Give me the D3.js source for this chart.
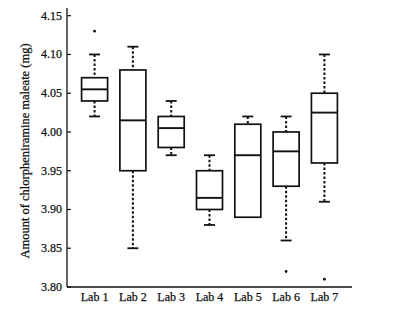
<!DOCTYPE html>
<html>
<head>
<meta charset="utf-8">
<script src="https://cdn.jsdelivr.net/npm/d3@7"></script>
<style>
  html, body { margin: 0; padding: 0; background: #fff; }
  svg { display: block; }
  text { font-family: "Liberation Serif", "DejaVu Serif", serif; fill: #111; stroke: #111; stroke-width: 0.25px; }
</style>
</head>
<body>
<svg id="chart" width="401" height="328"></svg>
<script>
// Chlorpheniramine maleate assay results by laboratory
const labs = ["Lab 1", "Lab 2", "Lab 3", "Lab 4", "Lab 5", "Lab 6", "Lab 7"];
const whiskerLow  = [4.02, 3.85, 3.97, 3.88, 3.89, 3.86, 3.91];
const quartile1   = [4.04, 3.95, 3.98, 3.90, 3.89, 3.93, 3.96];
const medians     = [4.055, 4.015, 4.005, 3.915, 3.97, 3.975, 4.025];
const quartile3   = [4.07, 4.08, 4.02, 3.95, 4.01, 4.00, 4.05];
const whiskerHigh = [4.10, 4.11, 4.04, 3.97, 4.02, 4.02, 4.10];
const outlierLab   = ["Lab 1", "Lab 6", "Lab 7"];
const outlierValue = [4.13, 3.82, 3.81];
const yTicks = [3.80, 3.85, 3.90, 3.95, 4.00, 4.05, 4.10, 4.15];

const svg = d3.select("#chart");
const plotLeft = 67, plotRight = 352, plotTop = 8, plotBottom = 287;

const x = d3.scalePoint().domain(labs).range([plotLeft, plotRight]).padding(0.72);
const y = d3.scaleLinear().domain([3.80, 4.15]).range([plotBottom, 15.7]);

const boxW = 26, capW = 11;
const ink = "#111";

// Axes
svg.append("line").attr("x1", plotLeft).attr("x2", plotLeft).attr("y1", plotTop).attr("y2", plotBottom)
  .attr("stroke", ink).attr("stroke-width", 1.3);
svg.append("line").attr("x1", plotLeft).attr("x2", plotRight).attr("y1", plotBottom).attr("y2", plotBottom)
  .attr("stroke", ink).attr("stroke-width", 1.3);

const yAxis = svg.append("g");
yTicks.forEach(t => {
  yAxis.append("line").attr("x1", plotLeft).attr("x2", plotLeft + 4)
    .attr("y1", y(t)).attr("y2", y(t)).attr("stroke", ink).attr("stroke-width", 1.2);
  yAxis.append("text").attr("x", plotLeft - 5).attr("y", y(t) + 4)
    .attr("text-anchor", "end").attr("font-size", 12).text(d3.format(".2f")(t));
});

svg.selectAll("text.xlab").data(labs).join("text").attr("class", "xlab")
  .attr("x", d => x(d)).attr("y", 301).attr("text-anchor", "middle")
  .attr("font-size", 12).text(d => d);

svg.append("text")
  .attr("transform", "translate(29,151) rotate(-90)")
  .attr("text-anchor", "middle").attr("font-size", 12.5)
  .text("Amount of chlorpheniramine maleate (mg)");

// Boxes
const g = svg.append("g");
labs.forEach((lab, i) => {
  const cx = x(lab);
  // dotted whiskers with solid caps
  [[whiskerHigh[i], quartile3[i]], [quartile1[i], whiskerLow[i]]].forEach(([a, b]) => {
    if (Math.abs(a - b) < 1e-9) return;
    g.append("line").attr("x1", cx).attr("x2", cx).attr("y1", y(a)).attr("y2", y(b))
      .attr("stroke", ink).attr("stroke-width", 2).attr("stroke-dasharray", "2.5,2");
    const capV = a === whiskerHigh[i] ? a : b;
    g.append("line").attr("x1", cx - capW / 2).attr("x2", cx + capW / 2)
      .attr("y1", y(capV)).attr("y2", y(capV)).attr("stroke", ink).attr("stroke-width", 1.8);
  });
  g.append("rect").attr("x", cx - boxW / 2).attr("width", boxW)
    .attr("y", y(quartile3[i])).attr("height", y(quartile1[i]) - y(quartile3[i]))
    .attr("fill", "#fff").attr("stroke", ink).attr("stroke-width", 1.7);
  g.append("line").attr("x1", cx - boxW / 2).attr("x2", cx + boxW / 2)
    .attr("y1", y(medians[i])).attr("y2", y(medians[i]))
    .attr("stroke", ink).attr("stroke-width", 1.9);
});

// Outliers
svg.selectAll("circle.out").data(outlierLab).join("circle").attr("class", "out")
  .attr("cx", d => x(d)).attr("cy", (d, i) => y(outlierValue[i])).attr("r", 1.4)
  .attr("fill", ink);
</script>
</body>
</html>
